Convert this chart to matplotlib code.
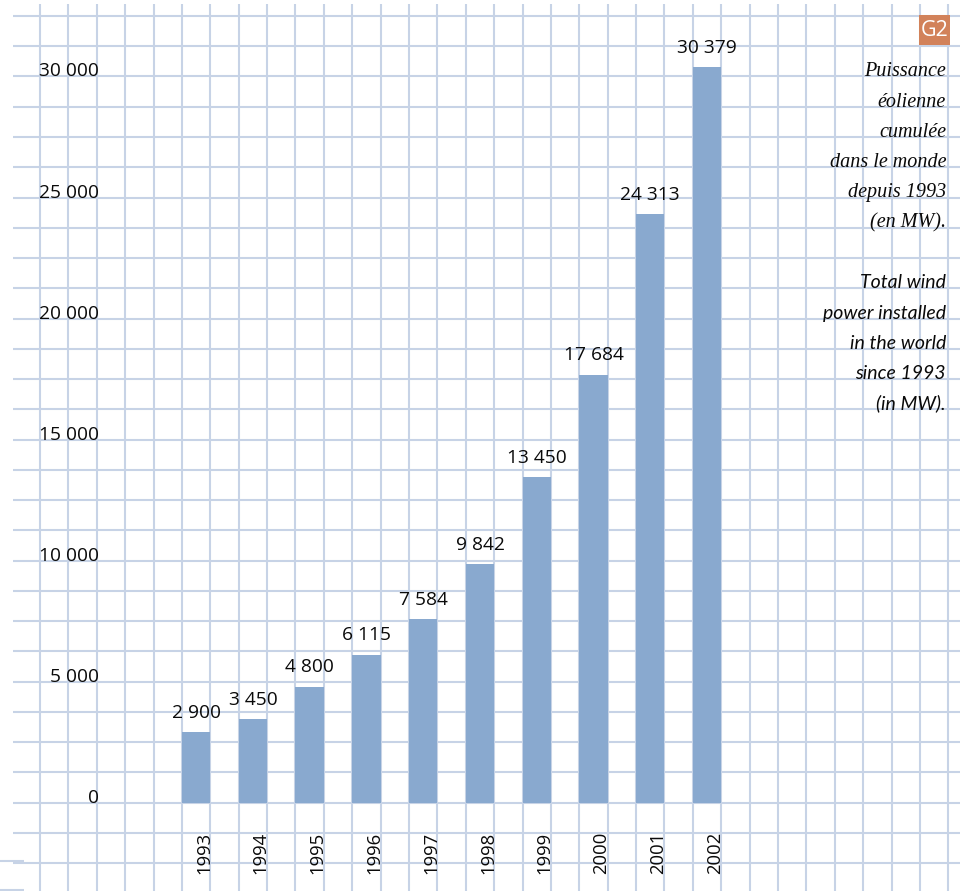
import matplotlib
matplotlib.use('Agg')
import matplotlib.pyplot as plt
from matplotlib.patches import Rectangle

# ---- data ----
years = ['1993', '1994', '1995', '1996', '1997', '1998', '1999', '2000', '2001', '2002']
values = [2900, 3450, 4800, 6115, 7584, 9842, 13450, 17684, 24313, 30379]
value_labels = ['2 900', '3 450', '4 800', '6 115', '7 584', '9 842', '13 450', '17 684', '24 313', '30 379']
ytick_values = [0, 5000, 10000, 15000, 20000, 25000, 30000]
ytick_labels = ['0', '5 000', '10 000', '15 000', '20 000', '25 000', '30 000']
title_fr = ['Puissance', 'éolienne', 'cumulée', 'dans le monde', 'depuis 1993', '(en MW).']
title_en = ['Total wind', 'power installed', 'in the world', 'since 1993', '(in MW).']
badge = 'G2'

# ---- styles / layout ----
W, H = 960, 891
CELL_PX = 28.385      # width of one grid cell in pixels
ROW_PX = 30.26        # height of one grid row in pixels
X0_PX = 40            # first vertical grid line
ZERO_PX = 802.7       # baseline (value 0) from top
UNIT = 1250           # value per grid row
GRID = '#c7d3e6'
BAR = '#89a9cf'
BADGE = '#d2825a'
NUM_FONT = ['Open Sans', 'DejaVu Sans']
NUM_SIZE = 13.8
TXT = '#0a0a0a'


def px_x(p):
    return (p - X0_PX) / CELL_PX


def px_y(p):
    return (ZERO_PX - p) / ROW_PX * UNIT


fig = plt.figure(figsize=(W / 100, H / 100), dpi=100)
ax = fig.add_axes([0, 0, 1, 1])
ax.set_xlim(px_x(0), px_x(W))
ax.set_ylim(px_y(H), px_y(0))
ax.axis('off')

lw = 1.5
# vertical grid lines
for i in range(0, 33):
    ax.plot([i, i], [px_y(H + 2), px_y(4)], color=GRID, lw=lw, zorder=1,
            solid_capstyle='butt')
# horizontal grid lines
for k in range(-2, 27):
    ax.plot([px_x(13), px_x(W + 2)], [k * UNIT, k * UNIT], color=GRID, lw=lw,
            zorder=1, solid_capstyle='butt')
# small stubs at bottom-left
for p in (861, 890):
    ax.plot([px_x(0), px_x(24)], [px_y(p), px_y(p)], color=GRID, lw=lw, zorder=1,
            solid_capstyle='butt')

# bars
xpos = [5.5 + 2 * i for i in range(len(values))]
ax.bar(xpos, values, width=1.0, color=BAR, zorder=3, linewidth=0)

for x, v, lab in zip(xpos, values, value_labels):
    ax.annotate(lab, (x, v), xytext=(0, 7.5), textcoords='offset points',
                ha='center', va='bottom', fontsize=NUM_SIZE, family=NUM_FONT,
                color=TXT, zorder=4)

for x, y in zip(xpos, years):
    ax.text(x + 0.28, px_y(852.5), y, rotation=90, ha='center', va='center',
            fontsize=13.3, family=NUM_FONT, color=TXT, zorder=4)

for v, lab in zip(ytick_values, ytick_labels):
    ax.text(px_x(99), v, lab, ha='right', va='baseline', fontsize=NUM_SIZE,
            family=NUM_FONT, color=TXT, zorder=4)

# right-side title
xr = px_x(946)
for j, line in enumerate(title_fr):
    ax.text(xr, (24 - j) * UNIT, line, ha='right', va='baseline', fontsize=14.5,
            family=['Liberation Serif', 'DejaVu Serif'], fontstyle='italic',
            color=TXT, zorder=4)
for j, line in enumerate(title_en):
    ax.text(xr, (17 - j) * UNIT, line, ha='right', va='baseline', fontsize=14,
            family=['Lato', 'DejaVu Sans'], fontstyle='italic',
            color=TXT, zorder=4)

# badge
bx0, bx1, by0, by1 = px_x(919), px_x(949.5), px_y(45), px_y(15)
ax.add_patch(Rectangle((bx0, by0), bx1 - bx0, by1 - by0, facecolor=BADGE,
                       edgecolor='none', zorder=5))
ax.text((bx0 + bx1) / 2, (by0 + by1) / 2, badge, ha='center', va='center',
        fontsize=15.5, family=NUM_FONT, color='white', zorder=6)

fig.savefig('out.png', dpi=100)
